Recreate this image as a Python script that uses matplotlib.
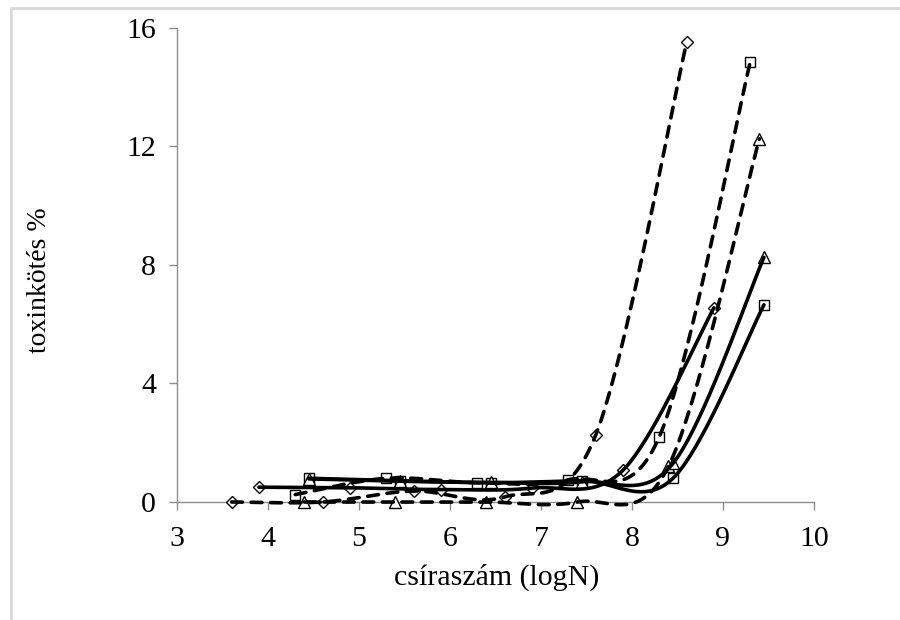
import numpy as np
import matplotlib
matplotlib.use("Agg")
import matplotlib.pyplot as plt
from matplotlib.patches import Rectangle

# ---- data ----
diamond_dashed_x = [3.6, 4.6, 5.6, 6.6, 7.6, 8.6]
diamond_dashed_y = [0.0, 0.0, 0.37, 0.17, 2.25, 15.5]
diamond_solid_x = [3.9, 4.9, 5.9, 6.9, 7.9, 8.9]
diamond_solid_y = [0.5, 0.48, 0.42, 0.47, 1.07, 6.55]
square_dashed_x = [4.3, 5.3, 6.3, 7.3, 8.3, 9.3]
square_dashed_y = [0.25, 0.8, 0.65, 0.75, 2.2, 14.85]
square_solid_x = [4.45, 5.45, 6.45, 7.45, 8.45, 9.45]
square_solid_y = [0.8, 0.72, 0.65, 0.72, 0.8, 6.65]
triangle_dashed_x = [4.4, 5.4, 6.4, 7.4, 8.4, 9.4]
triangle_dashed_y = [0.0, 0.0, 0.0, 0.0, 1.2, 12.25]
triangle_solid_x = [4.45, 5.45, 6.45, 7.45, 8.45, 9.45]
triangle_solid_y = [0.78, 0.7, 0.66, 0.68, 1.3, 8.25]

x_ticks = [3, 4, 5, 6, 7, 8, 9, 10]
y_ticks = [0, 4, 8, 12, 16]
x_label = "csíraszám (logN)"
y_label = "toxinkötés %"


def smooth(x, y, n=40):
    """Excel-like smoothed line (Catmull-Rom Bezier)."""
    P = np.column_stack([x, y]).astype(float)
    ext = np.vstack([P[0], P, P[-1]])
    t = np.linspace(0, 1, n)[:, None]
    out = []
    for i in range(len(P) - 1):
        p0, p1, p2, p3 = ext[i], ext[i + 1], ext[i + 2], ext[i + 3]
        c1 = p1 + (p2 - p0) / 6.0
        c2 = p2 - (p3 - p1) / 6.0
        seg = (1 - t) ** 3 * p1 + 3 * (1 - t) ** 2 * t * c1 + 3 * (1 - t) * t ** 2 * c2 + t ** 3 * p2
        out.append(seg if i == 0 else seg[1:])
    return np.vstack(out)


plt.rcParams['font.family'] = ['Liberation Serif', 'DejaVu Serif']

fig = plt.figure(figsize=(9, 6.2), dpi=100)
ax = fig.add_axes([177 / 900, 1 - 502 / 620, (814 - 177) / 900, (502 - 27.6) / 620])

series = [
    (diamond_dashed_x, diamond_dashed_y, 'D', 'dashed', 6.5),
    (diamond_solid_x, diamond_solid_y, 'D', 'solid', 6.5),
    (square_dashed_x, square_dashed_y, 's', 'dashed', 7.5),
    (square_solid_x, square_solid_y, 's', 'solid', 7.5),
    (triangle_dashed_x, triangle_dashed_y, '^', 'dashed', 8),
    (triangle_solid_x, triangle_solid_y, '^', 'solid', 8),
]

for xs, ys, mk, style, ms in series:
    ax.plot(xs, ys, ls='none', marker=mk, ms=ms, mfc='white', mec='black',
            mew=1.0, zorder=3, clip_on=False)
for xs, ys, mk, style, ms in series:
    c = smooth(xs, ys)
    if style == 'dashed':
        ax.plot(c[:, 0], c[:, 1], color='black', lw=2.6, ls=(0, (3.0, 2.4)),
                dash_capstyle='round', zorder=4, clip_on=False)
    else:
        ax.plot(c[:, 0], c[:, 1], color='black', lw=2.6, solid_capstyle='round',
                zorder=4, clip_on=False)

ax.set_xlim(3, 10)
ax.set_ylim(0, 16)
ax.set_xticks(x_ticks)
ax.set_yticks(y_ticks)
ax.set_xticklabels([str(v) for v in x_ticks])
ax.set_yticklabels([str(v) for v in y_ticks])

for s in ['top', 'right']:
    ax.spines[s].set_visible(False)
for s in ['left', 'bottom']:
    ax.spines[s].set_color('#8c8c8c')
    ax.spines[s].set_linewidth(1.0)
ax.tick_params(axis='both', direction='out', length=6, width=1.0, color='#8c8c8c',
               labelsize=21.5, labelcolor='black')
ax.tick_params(axis='x', pad=11)
ax.tick_params(axis='y', pad=9)

ax.set_xlabel(x_label, fontsize=21.5)
ax.set_ylabel(y_label, fontsize=20)
ax.xaxis.set_label_coords(0.502, -0.13)
ax.yaxis.set_label_coords(-0.197, 0.468)

# outer light-grey frame
fig.patches.append(Rectangle((11 / 900, -0.05), 1.2, 1 - 8 / 620 + 0.05,
                             transform=fig.transFigure, fill=False,
                             edgecolor='#d9d9d9', lw=2.0, zorder=0))

fig.savefig('out.png', dpi=100)
